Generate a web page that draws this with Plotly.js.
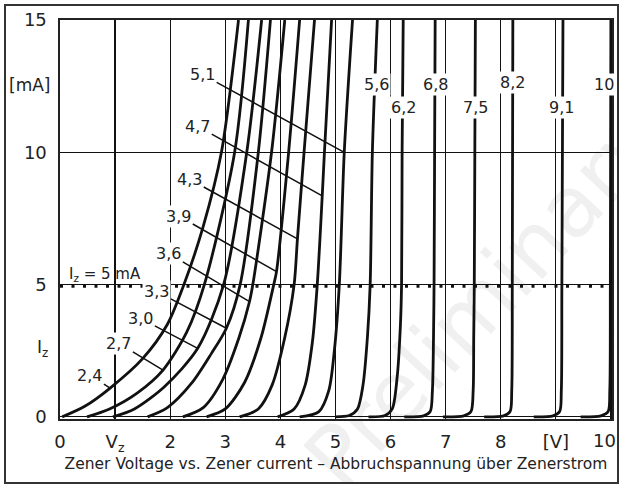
<!DOCTYPE html>
<html><head><meta charset="utf-8">
<script src="https://cdn.plot.ly/plotly-3.0.1.min.js"></script>
<style>
html,body{margin:0;padding:0;background:#fff;}
#wrap{position:relative;width:619px;height:484px;overflow:hidden;background:#fff;}
#wm{position:absolute;left:352px;top:418px;font-family:'DejaVu Sans',sans-serif;font-size:84px;line-height:84px;color:#f0f0f0;transform:rotate(-47deg);transform-origin:0 100%;white-space:nowrap;z-index:0;}
#chart{position:absolute;left:0;top:0;width:619px;height:484px;z-index:1;}
#frame{position:absolute;left:4px;top:4px;width:611px;height:476px;border:2px solid #333;pointer-events:none;z-index:2;}
</style></head>
<body>
<div id="wrap">
  <div id="wm">Preliminary</div>
  <div id="chart"></div>
  <div id="frame"></div>
</div>
<script>
// Zener curves: voltage [V] vs current [mA]
const V24 = [0.04,0.45,0.91,1.5,1.95,2.25,2.6,2.93,3.24];
const I24 = [0,0.4,1.09,2.2,3.5,5,7.2,10,15];
const V27 = [0.49,0.9,1.4,1.87,2.3,2.62,3.17,3.42];
const I27 = [0,0.3,0.9,1.77,3.2,5,10,15];
const V30 = [0.96,1.35,1.9,2.5,2.97,3.39,3.66];
const I30 = [0,0.3,1.15,2.59,5,10,15];
const V33 = [1.59,1.95,2.4,2.75,3.02,3.27,3.6,3.82];
const I33 = [0,0.35,1.3,2.4,3.35,5,10,15];
const V36 = [2.23,2.6,2.95,3.25,3.44,3.5,3.84,4.08];
const I36 = [0,0.35,1.4,3,4.36,5,10,15];
const V39 = [2.66,3.0,3.35,3.65,3.88,3.93,4.15,4.35];
const I39 = [0,0.3,1.3,3,5,5.49,10,15];
const V43 = [3.26,3.6,3.85,4.08,4.25,4.31,4.43,4.62];
const I43 = [0,0.3,1.2,3,5,6.73,10,15];
const V47 = [3.95,4.25,4.45,4.58,4.67,4.76,4.8,4.93];
const I47 = [0,0.3,1.2,2.8,5,8.35,10,15];
const V51 = [4.35,4.7,4.88,4.98,5.07,5.16,5.31];
const I51 = [0,0.2,1,2.5,5,10,15];
const V56 = [5.0,5.25,5.4,5.5,5.58,5.63,5.67,5.76];
const I56 = [0,0.05,0.3,1.2,3,5,10,15];
const V62 = [5.6,5.9,6.03,6.12,6.18,6.2,6.21,6.23];
const I62 = [0,0.05,0.3,1.5,3.5,5,10,15];
const V68 = [6.25,6.6,6.72,6.76,6.78,6.79,6.8,6.81];
const I68 = [0,0.04,0.2,1,3,5,10,15];
const V75 = [6.95,7.33,7.46,7.5,7.51,7.52,7.53,7.54];
const I75 = [0,0.04,0.2,1,3,5,10,15];
const V82 = [7.7,8.05,8.17,8.2,8.21,8.22];
const I82 = [0,0.04,0.2,1,5,15];
const V91 = [8.6,8.95,9.07,9.1,9.11,9.13];
const I91 = [0,0.04,0.2,1,5,15];
const V100 = [9.45,9.82,9.95,9.98,9.99,10.0];
const I100 = [0,0.04,0.2,1,5,15];

// labels
const lowNames = ['2,4','2,7','3,0','3,3','3,6','3,9','4,3','4,7','5,1'];
const lowV = [V24,V27,V30,V33,V36,V39,V43,V47,V51];
const lowI = [I24,I27,I30,I33,I36,I39,I43,I47,I51];
const lowLeaderIdx = [2,3,3,4,4,5,5,5,5];      // point of the curve where the leader ends
const lowLabelX = [0.543,1.069,1.467,1.757,1.975,2.156,2.355,2.50,2.59];
const lowLabelY = [1.58,2.78,3.72,4.74,6.17,7.59,8.98,10.98,12.93];

const highNames = ['5,6','6,2','6,8','7,5','8,2','9,1','10'];
const highV = [V56,V62,V68,V75,V82,V91,V100];
const highI = [I56,I62,I68,I75,I82,I91,I100];
const highLabelX = [5.74,6.23,6.81,7.54,8.21,9.11,9.87];
const highLabelY = [12.56,11.69,12.56,11.69,12.63,11.69,12.56];

const xTickVals = [0,1,2,3,4,5,6,7,8,9,10];
const xTickText = ['0','V<sub>z</sub>','2','3','4','5','6','7','8','[V]',''];
const xLastTick = '10';
const yTickVals = [0,5,10,15];
const yTickText = ['0','5','10','15'];

const allV = lowV.concat(highV);
const allI = lowI.concat(highI);

const traces = allV.map((v,k)=>({
  type:'scatter', mode:'lines', x:v, y:allI[k],
  line:{color:'#111', width:2.8, shape:'spline', smoothing:0.8},
  hoverinfo:'skip'
}));

const ann = [];
lowNames.forEach((n,k)=>{
  const idx = lowLeaderIdx[k];
  ann.push({x:lowV[k][idx], y:lowI[k][idx], xref:'x', yref:'y',
    ax:lowLabelX[k], ay:lowLabelY[k], axref:'x', ayref:'y',
    text:n, showarrow:true, arrowhead:0, arrowwidth:1.5, arrowcolor:'#111',
    standoff:0, startstandoff:0, bgcolor:'#fff', borderpad:1,
    font:{size:16, color:'#222'}});
});
highNames.forEach((n,k)=>{
  ann.push({x:highLabelX[k], y:highLabelY[k], xref:'x', yref:'y', text:n,
    showarrow:false, bgcolor:'#fff', borderpad:1, font:{size:16, color:'#222'}});
});
ann.push({x:0.815, y:5.38, xref:'x', yref:'y', text:'I<sub>z</sub> = 5 mA', showarrow:false,
  font:{size:15, color:'#222'}});
ann.push({x:-0.0145, y:12.56, xref:'paper', yref:'y', xanchor:'right', text:'[mA]', showarrow:false,
  font:{size:17, color:'#222'}});
ann.push({x:-0.0175, y:2.59, xref:'paper', yref:'y', xanchor:'right', text:'I<sub>z</sub>', showarrow:false,
  font:{size:17, color:'#222'}});
ann.push({x:0.987, y:-0.053, xref:'paper', yref:'paper', xanchor:'center', yanchor:'middle', text:xLastTick, showarrow:false,
  font:{size:18, color:'#222'}});

const layout = {
  width:619, height:484,
  margin:{l:60, r:7, t:20, b:65},
  paper_bgcolor:'rgba(0,0,0,0)', plot_bgcolor:'rgba(0,0,0,0)',
  showlegend:false,
  font:{family:'DejaVu Sans, sans-serif', size:16, color:'#222'},
  xaxis:{range:[0,10.02], tickmode:'array', tickvals:xTickVals, ticktext:xTickText,
    showgrid:true, gridcolor:'#111', gridwidth:1.2, zeroline:false,
    showline:true, mirror:true, linecolor:'#222', linewidth:1.6,
    ticks:'', ticklabelstandoff:6, tickfont:{size:18},
    title:{text:'Zener Voltage vs. Zener current – Abbruchspannung über Zenerstrom', font:{size:15.5}, standoff:4},
    fixedrange:true},
  yaxis:{range:[-0.08,15], tickmode:'array', tickvals:yTickVals, ticktext:yTickText,
    showgrid:true, gridcolor:'#111', gridwidth:1.2, zeroline:false,
    showline:true, mirror:true, linecolor:'#222', linewidth:1.6,
    ticks:'', ticklabelstandoff:8, tickfont:{size:18}, fixedrange:true},
  shapes:[{type:'line', xref:'paper', x0:0, x1:1, yref:'y', y0:4.95, y1:4.95,
    line:{color:'#111', width:3.5, dash:'3px,8.5px'}}],
  annotations:ann
};
Plotly.newPlot('chart', traces, layout, {displayModeBar:false, staticPlot:true});
</script>
</body></html>
